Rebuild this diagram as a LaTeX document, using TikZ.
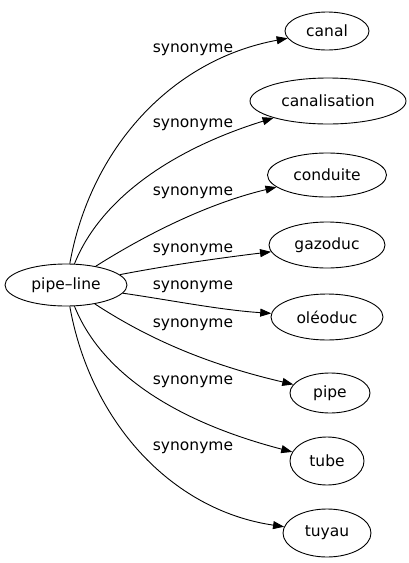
\documentclass[tikz,border=0pt]{standalone}
\usepackage{fontspec}
\setmainfont{DejaVu Sans}
\usetikzlibrary{arrows.meta,shapes.geometric}

\begin{document}
\begin{tikzpicture}[x=1pt,y=-1pt,
  word/.style={draw,ellipse,inner sep=0pt,line width=0.9pt,font=\fontsize{15.5}{18}\selectfont},
  syn/.style={font=\fontsize{15.5}{18}\selectfont},
  link/.style={-{Triangle[length=11pt,width=8pt]},line width=0.9pt}]
\useasboundingbox (0,0) rectangle (409,563);

% source word
\node[word,minimum width=122pt,minimum height=42pt] (src) at (66,285) {pipe–line};

% synonyms
\node[word,minimum width=84pt,minimum height=38pt] (canal) at (327,31) {canal};
\node[word,minimum width=156pt,minimum height=46pt] (canalisation) at (328,101) {canalisation};
\node[word,minimum width=119pt,minimum height=44pt] (conduite) at (327,175) {conduite};
\node[word,minimum width=116pt,minimum height=46pt] (gazoduc) at (327,245) {gazoduc};
\node[word,minimum width=112pt,minimum height=46pt] (oleoduc) at (327,317) {oléoduc};
\node[word,minimum width=80pt,minimum height=40pt] (pipe) at (330,393) {pipe};
\node[word,minimum width=74pt,minimum height=48pt] (tube) at (327,461) {tube};
\node[word,minimum width=88pt,minimum height=48pt] (tuyau) at (327,533) {tuyau};

% edges
\draw[link] (src) .. controls (90,150) and (170,60) .. (canal);
\draw[link] (src) .. controls (100,200) and (170,150) .. (canalisation);
\draw[link] (src) .. controls (150,232) and (210,203) .. (conduite);
\draw[link] (src) .. controls (170,265) and (220,258) .. (gazoduc);
\draw[link] (src) .. controls (170,300) and (220,310) .. (oleoduc);
\draw[link] (src) .. controls (150,340) and (210,365) .. (pipe);
\draw[link] (src) .. controls (100,370) and (170,420) .. (tube);
\draw[link] (src) .. controls (90,420) and (170,510) .. (tuyau);

% edge labels
\node[syn] (lcanal) at (193,50) {synonyme};
\node[syn] (lcanalisation) at (193,125) {synonyme};
\node[syn] (lconduite) at (193,193) {synonyme};
\node[syn] (lgazoduc) at (193,250) {synonyme};
\node[syn] (loleoduc) at (193,287) {synonyme};
\node[syn] (lpipe) at (193,325) {synonyme};
\node[syn] (ltube) at (193,382) {synonyme};
\node[syn] (ltuyau) at (193,448) {synonyme};
\end{tikzpicture}
\end{document}
